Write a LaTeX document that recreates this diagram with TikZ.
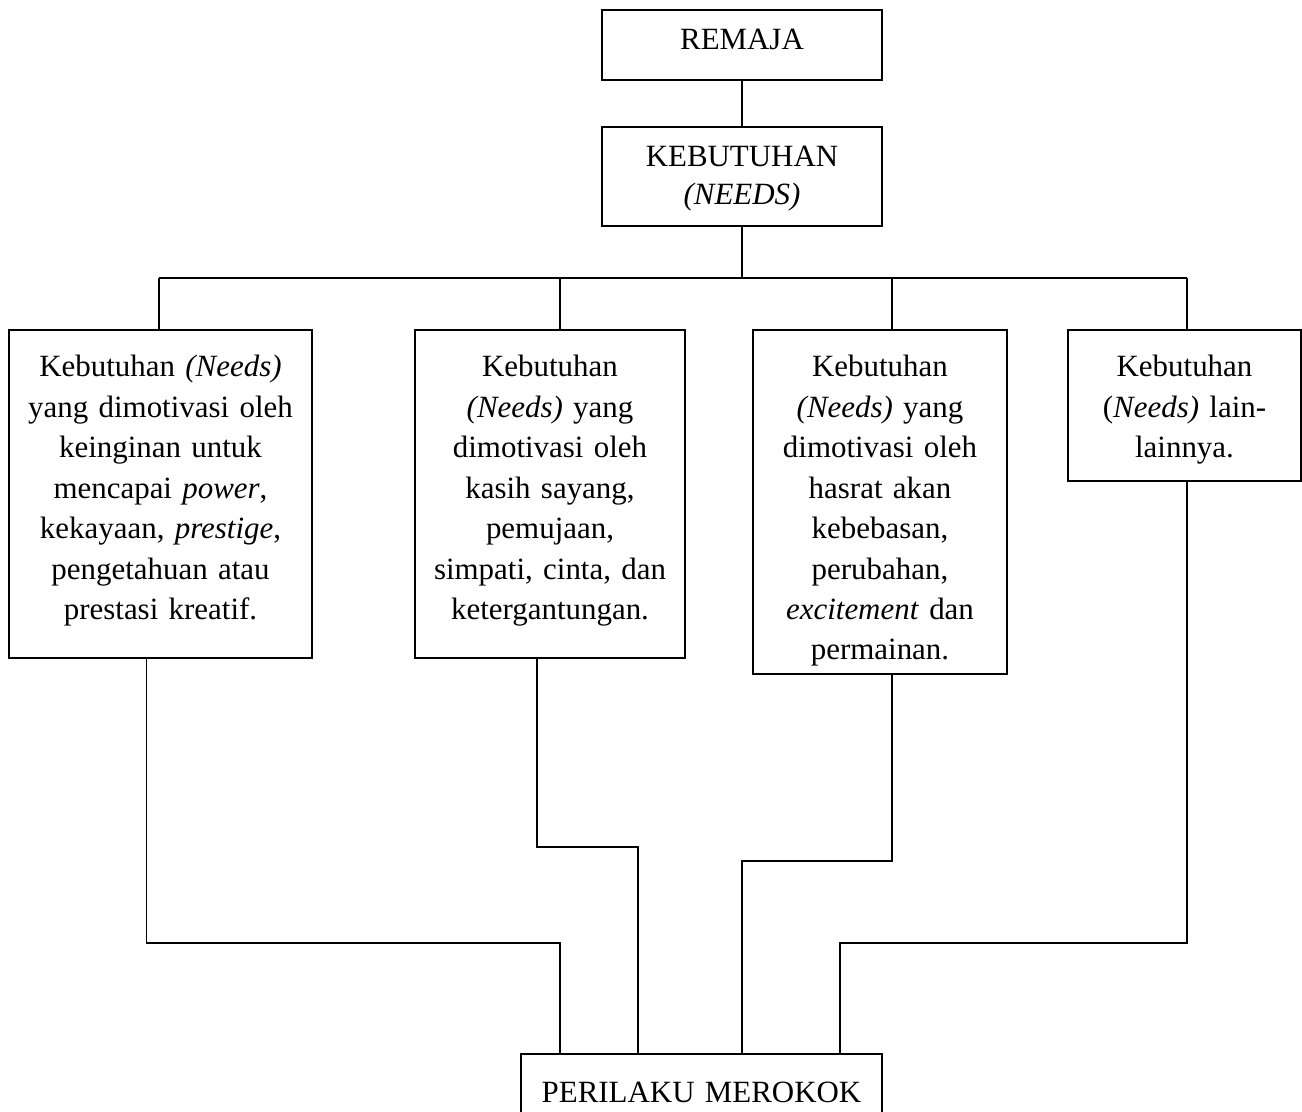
\documentclass[tikz,border=0pt]{standalone}
\usepackage{fontspec}
\setmainfont{Liberation Serif}
\begin{document}
\begin{tikzpicture}[line width=1.1pt, line join=miter, font=\fontsize{17.6}{23}\selectfont,
		kotak/.style={draw, anchor=north, align=center, inner xsep=0pt, inner ysep=0pt},
		isi/.style={text height=0.94cm}]
	\useasboundingbox (0,0) rectangle (26.04,22.22);
	% kotak atas
	\node[kotak, text width=5.6cm, text height=0.79cm, text depth=0.62cm] (remaja) at (14.84,22.04) {REMAJA};
	\node[kotak, text width=5.6cm, text height=0.79cm, text depth=1.19cm, font=\fontsize{17.6}{21.6}\selectfont] (kebutuhan) at (14.84,19.70) {KEBUTUHAN\\ \textit{(NEEDS)}};
	% empat kebutuhan
	\node[kotak, isi, text width=6.06cm, text depth=5.62cm] (b1) at (3.21,15.64) {Kebutuhan \textit{(Needs)}\\ yang dimotivasi oleh\\ keinginan untuk\\ mencapai \textit{power},\\ kekayaan, \textit{prestige},\\ pengetahuan atau\\ prestasi kreatif.};
	\node[kotak, isi, text width=5.4cm, text depth=5.62cm] (b2) at (11.0,15.64) {Kebutuhan\\ \textit{(Needs)} yang\\ dimotivasi oleh\\ kasih sayang,\\ pemujaan,\\ simpati, cinta, dan\\ ketergantungan.};
	\node[kotak, isi, text width=5.08cm, text depth=5.94cm] (b3) at (17.6,15.64) {Kebutuhan\\ \textit{(Needs)} yang\\ dimotivasi oleh\\ hasrat akan\\ kebebasan,\\ perubahan,\\ \textit{excitement} dan\\ permainan.};
	\node[kotak, isi, text width=4.66cm, text depth=2.08cm] (b4) at (23.69,15.64) {Kebutuhan\\ (\textit{Needs)} lain-\\ lainnya.};
	% kotak bawah
	\node[kotak, text width=7.22cm, text height=0.98cm, text depth=0.4cm] (perilaku) at (14.03,1.16) {PERILAKU MEROKOK};
	% garis atas
	\coordinate (s1) at (3.18,16.66);
	\coordinate (s2) at (11.2,16.66);
	\coordinate (s3) at (17.84,16.66);
	\coordinate (s4) at (23.74,16.66);
	\draw (remaja.south) -- (kebutuhan.north);
	\draw (kebutuhan.south) -- (kebutuhan.south |- s1);
	\draw (s1) -- (s4);
	\foreach \i in {1,...,4} \draw (s\i) -- (s\i |- b\i.north);
	% garis bawah
	\coordinate (p1) at (2.93,3.36);  \coordinate (q1) at (11.2,3.36);
	\coordinate (p2) at (10.74,5.28); \coordinate (q2) at (12.76,5.28);
	\coordinate (p3) at (17.84,5.0);  \coordinate (q3) at (14.84,5.0);
	\coordinate (p4) at (23.74,3.36); \coordinate (q4) at (16.8,3.36);
	\foreach \i in {1,...,4} \draw (b\i.south -| p\i) -- (p\i) -- (q\i) -- (q\i |- perilaku.north);
\end{tikzpicture}
\end{document}
